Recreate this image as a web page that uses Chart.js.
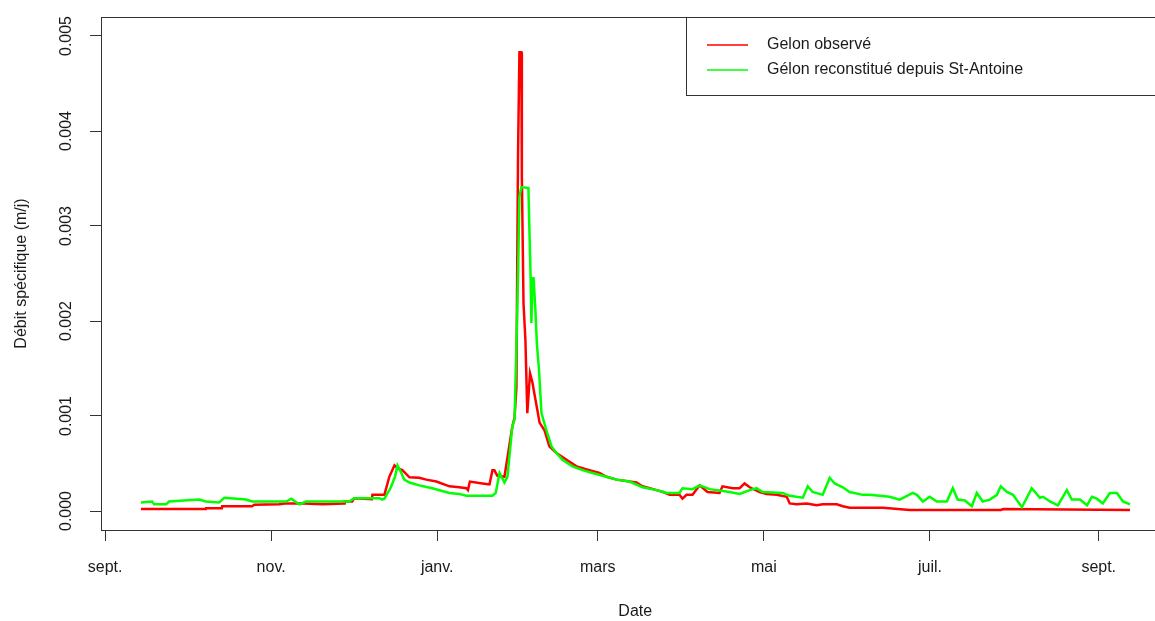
<!DOCTYPE html>
<html>
<head>
<meta charset="utf-8">
<script src="https://cdn.jsdelivr.net/npm/chart.js@4.4.1/dist/chart.umd.min.js"></script>
<style>
  html, body { margin: 0; padding: 0; background: #fff; overflow: hidden; }
  #wrap { width: 1155px; height: 621px; overflow: hidden; }
</style>
</head>
<body>
<div id="wrap"><canvas id="debit" width="1180" height="621"></canvas></div>
<script>
// days counted from 1 sept.
var monthDays = [0, 61, 122, 181, 242, 303, 365]
var monthLabels = ["sept.", "nov.", "janv.", "mars", "mai", "juil.", "sept."]
var yTickVals = [0, 0.001, 0.002, 0.003, 0.004, 0.005]

// Gelon observé
var obsDays = [13.2, 37, 37.1, 42.9, 43.0, 54, 54.8, 64, 66, 73, 80, 87.9, 88, 90.8, 91.5, 98, 98.2, 102.6,
  104.4, 106.3, 107.4, 109.2, 111.8, 115.4, 118, 121.7, 126.5, 130.1, 132.7, 133.3, 134, 138.6, 141.2,
  142.3, 143, 144.1, 146.7, 147.8, 149.6, 150.4, 151.1, 151.4, 151.7, 152.2, 152.9, 153.1, 153.7, 154.4,
  155.1, 156.1, 157.0, 157.6, 158.8, 159.6, 161.4, 163.2, 165.8, 169.5, 173.2, 177.9, 181.6, 184.2, 187.9,
  192.6, 195.2, 197.4, 202.6, 205, 207.4, 211, 212.1, 213.6, 215.8, 218.4, 221.3, 225.7, 226.8, 230.5,
  233.1, 234.9, 236.8, 240.4, 243.0, 246.7, 250.4, 251.5, 254, 257.7, 261.4, 263.6, 268.8, 271, 273.5,
  285.7, 295.6, 329, 330, 376.5]
var obsVals = [0.00002, 0.00002, 0.00003, 0.00003, 0.00005, 0.00005, 0.000065, 0.00007, 0.00008, 0.00008, 0.00007,
  0.00008, 0.0001, 0.0001, 0.000135, 0.000125, 0.00017, 0.00017,
  0.00036, 0.00048, 0.00045, 0.00043, 0.000355, 0.00035, 0.00033, 0.00031, 0.00026, 0.00025, 0.00024, 0.00022,
  0.00031, 0.00029, 0.00028,
  0.00043, 0.00043, 0.00037, 0.00036, 0.00056, 0.00089, 0.00098, 0.0013, 0.0026, 0.00377, 0.00483, 0.00483,
  0.00352, 0.00219, 0.0018,
  0.00103, 0.00145, 0.00135, 0.00125, 0.00106, 0.00093, 0.00085, 0.00068, 0.00061, 0.00054, 0.00047, 0.00043,
  0.0004, 0.00036, 0.00033,
  0.00031, 0.0003, 0.00026, 0.00022, 0.0002, 0.00017, 0.00017, 0.00013, 0.00017, 0.00017, 0.00027, 0.0002,
  0.00019, 0.00026, 0.00024,
  0.00024, 0.00029, 0.00025, 0.0002, 0.00018, 0.00017, 0.00015, 0.00008, 0.00007, 0.00008, 0.00006, 0.00007,
  0.00007, 0.00005, 0.000035,
  0.000035, 0.00001, 0.00001, 0.00002, 0.00001]

// Gélon reconstitué depuis St-Antoine
var recDays = [13.2, 17.3, 18, 22.4, 23.5, 34.6, 37, 41.9, 43.8, 51.8, 54, 66.5, 68.4, 71.3, 73.9, 89.7, 91.5,
  100.7, 101.8, 102.6, 105, 106.5, 107.4, 108.5, 109.9, 111.8, 115.4, 120.2, 126.5, 130.1, 132.7, 138.6,
  142.3, 143.5, 144.9, 146.7, 147.8, 149.6, 150.4, 151.1, 151.7, 152.2, 152.9, 155.5, 155.9, 156.3, 156.6,
  157.0, 157.4, 158.1, 158.6, 159.4, 160.3, 162.1, 164, 165.8, 168, 171.7, 175.4, 179, 184.2, 187.9, 192.6,
  197.4, 202.6, 206.3, 211, 212.1, 215.8, 218.4, 222.1, 229.4, 233.1, 236.8, 239.3, 241.5, 248.9, 251.5,
  256.3, 258.1, 259.9, 263.6, 266.2, 268, 271, 273.5, 278.3, 280.9, 288.2, 291.9, 296.7, 298.2, 300.4,
  302.9, 305.5, 309.2, 311.4, 313.2, 315.8, 318.4, 320.2, 322.4, 325, 327.6, 329, 331.3, 333.5, 336.8,
  340.4, 343.4, 344.5, 347.1, 350, 353.3, 355.1, 358.1, 360.7, 362.5, 364.3, 366.5, 369.1, 371.7, 373.9, 376.5]
var recVals = [0.00009, 0.0001, 0.00007, 0.00007, 0.0001, 0.00012, 0.0001, 0.00009, 0.00014, 0.00012, 0.0001,
  0.0001, 0.00013, 0.00007, 0.0001, 0.0001, 0.000135,
  0.000135, 0.00012, 0.00013, 0.00025, 0.00036, 0.00048, 0.00042, 0.00033, 0.0003, 0.00027, 0.00024,
  0.00019, 0.00018, 0.00016, 0.00016,
  0.00016, 0.00019, 0.0004, 0.0003, 0.00036, 0.00089, 0.00096, 0.00173, 0.0025, 0.00331, 0.00341, 0.0034,
  0.00293, 0.00247, 0.00198,
  0.00245, 0.00245, 0.0021, 0.00177, 0.00148, 0.00103, 0.00085, 0.00068, 0.00061, 0.00054, 0.00047,
  0.00043, 0.0004, 0.00036, 0.00033, 0.00031,
  0.00025, 0.00022, 0.00019, 0.00019, 0.00024, 0.00023, 0.00027, 0.00023, 0.0002, 0.00018, 0.00022,
  0.00024, 0.0002, 0.00019, 0.00016,
  0.00014, 0.00026, 0.0002, 0.00017, 0.00035, 0.00029, 0.00025, 0.0002, 0.00017, 0.00017, 0.00015,
  0.00012, 0.00019, 0.00017, 0.0001,
  0.00015, 0.0001, 0.0001, 0.00024, 0.00012, 0.00011, 0.00005, 0.00019, 0.0001, 0.00012, 0.00017,
  0.00026, 0.0002, 0.00017, 0.00004,
  0.00024, 0.00014, 0.00015, 0.0001, 0.00006, 0.00022, 0.00012, 0.00012, 0.00006, 0.00015, 0.00013,
  0.00008, 0.00019, 0.00019, 0.0001, 0.00007]

var legendNames = ["Gelon observé", "Gélon reconstitué depuis St-Antoine"]
var seriesColors = ["#ff0000", "#00ff00"]

function toPoints(xs, ys) {
  var pts = []
  for (var i = 0; i < xs.length; i++) {
    pts.push({x: xs[i], y: ys[i]})
  }
  return pts
}

var fontFam = "'Liberation Sans', Arial, sans-serif"
var inkCol = "#1a1a1a"
var axisCol = "#333333"

// box around plot, rotated y labels and the legend (R style)
var rStyle = {
  id: "rStyle",
  afterDraw: function(chart) {
    var ctx = chart.ctx
    var a = chart.chartArea
    var ys = chart.scales.y
    ctx.save()
    ctx.strokeStyle = axisCol
    ctx.lineWidth = 1
    ctx.strokeRect(a.left + 0.5, a.top + 0.5, a.right - a.left, a.bottom - a.top)

    ctx.fillStyle = inkCol
    ctx.font = "16px " + fontFam
    ctx.textAlign = "center"
    ctx.textBaseline = "middle"
    for (var i = 0; i < yTickVals.length; i++) {
      var py = ys.getPixelForValue(yTickVals[i])
      ctx.save()
      ctx.translate(67, py)
      ctx.rotate(-Math.PI / 2)
      ctx.fillText(yTickVals[i].toFixed(3), 0, 0)
      ctx.restore()
    }

    // legend
    var lx = 686, ly = 17, lw = a.right - 686, lh = 78
    ctx.fillStyle = "#fff"
    ctx.fillRect(lx, ly, lw, lh)
    ctx.strokeStyle = axisCol
    ctx.strokeRect(lx + 0.5, ly + 0.5, lw, lh)
    ctx.textAlign = "left"
    for (var k = 0; k < legendNames.length; k++) {
      var rowY = 45 + k * 25
      ctx.strokeStyle = seriesColors[k]
      ctx.lineWidth = 1.5
      ctx.beginPath()
      ctx.moveTo(707, rowY)
      ctx.lineTo(748, rowY)
      ctx.stroke()
      ctx.fillStyle = inkCol
      ctx.fillText(legendNames[k], 767, rowY)
    }
    ctx.restore()
  }
}

new Chart("debit", {
  type: "line",
  data: {
    datasets: [{
      label: legendNames[0],
      data: toPoints(obsDays, obsVals),
      borderColor: seriesColors[0],
      borderWidth: 2.5,
      pointRadius: 0,
      tension: 0,
      fill: false,
      order: 1
    }, {
      label: legendNames[1],
      data: toPoints(recDays, recVals),
      borderColor: seriesColors[1],
      borderWidth: 2.5,
      pointRadius: 0,
      tension: 0,
      fill: false,
      order: 0
    }]
  },
  options: {
    responsive: false,
    animation: false,
    devicePixelRatio: 1,
    layout: {padding: {left: 0, top: 17, right: 10.5, bottom: 0}},
    plugins: {legend: {display: false}, tooltip: {enabled: false}},
    scales: {
      x: {
        type: "linear",
        min: -1.5,
        max: 391,
        afterFit: function(s) { s.height = 91 },
        afterBuildTicks: function(s) {
          s.ticks = monthDays.map(function(d) { return {value: d} })
        },
        grid: {display: true, drawOnChartArea: false, drawTicks: true, tickLength: 11, color: axisCol},
        border: {display: false},
        ticks: {
          autoSkip: false,
          maxRotation: 0,
          padding: 17,
          color: inkCol,
          font: {family: fontFam, size: 16},
          callback: function(v) {
            var i = monthDays.indexOf(v)
            return i >= 0 ? monthLabels[i] : ""
          }
        },
        title: {display: true, text: "Date", color: inkCol, font: {family: fontFam, size: 16}, padding: {top: 0, bottom: 0}}
      },
      y: {
        type: "linear",
        min: -0.0002,
        max: 0.0052,
        afterFit: function(s) { s.width = 101 },
        afterBuildTicks: function(s) {
          s.ticks = yTickVals.map(function(v) { return {value: v} })
        },
        grid: {display: true, drawOnChartArea: false, drawTicks: true, tickLength: 11, color: axisCol},
        border: {display: false},
        ticks: {display: false},
        title: {display: true, text: "Débit spécifique (m/j)", color: inkCol, font: {family: fontFam, size: 16}, padding: {top: 12, bottom: 0}}
      }
    }
  },
  plugins: [rStyle]
})
</script>
</body>
</html>
